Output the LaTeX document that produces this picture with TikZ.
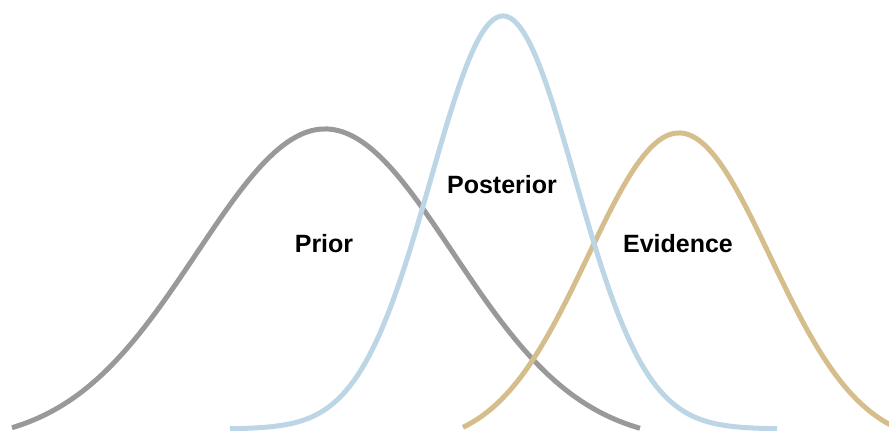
\documentclass[tikz,border=0pt]{standalone}
\usepackage{fontspec}
\setmainfont{Liberation Sans}
\begin{document}
\begin{tikzpicture}[x=1pt,y=-1pt,
  curve/.style={line width=5pt,line cap=butt,line join=round,samples=240,smooth},
  lbl/.style={font=\fontsize{25}{29}\selectfont\bfseries,anchor=base,inner sep=0pt}]
\definecolor{priorgray}{RGB}{153,153,153}
\definecolor{postblue}{RGB}{188,214,230}
\definecolor{evidtan}{RGB}{213,190,140}
\useasboundingbox (0,0) rectangle (889,431);
\clip (0,0) rectangle (889,431);
% prior: mean 325, sd 128
\draw[curve,priorgray] plot[domain=12:640]
  (\x,{443.5-314.5*exp(-0.5*((\x-325)/128)^2)});
% evidence: mean 679, sd 91
\draw[curve,evidtan] plot[domain=463:900]
  (\x,{446-313*exp(-0.5*((\x-679)/91)^2)});
% posterior: mean 503, sd 72
\draw[curve,postblue] plot[domain=230:777]
  (\x,{429-413*exp(-0.5*((\x-503)/72)^2)});
\node[lbl] (prior) at (324,252) {Prior};
\node[lbl] (posterior) at (502,193) {Posterior};
\node[lbl] (evidence) at (678,252) {Evidence};
\end{tikzpicture}
\end{document}
